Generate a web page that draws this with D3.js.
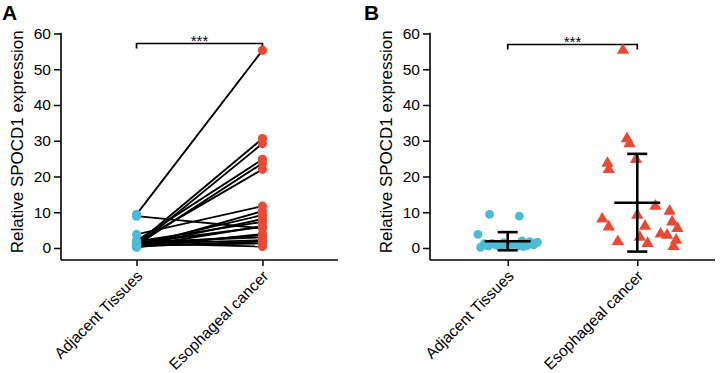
<!DOCTYPE html>
<html>
<head>
<meta charset="utf-8">
<script src="https://cdn.jsdelivr.net/npm/d3@7"></script>
<style>
  html, body { margin: 0; padding: 0; background: #fff; }
  svg { display: block; font-family: "Liberation Sans", Arial, sans-serif; }
</style>
</head>
<body>
<svg id="chart" width="720" height="373"></svg>
<script>
// ---- data (paired samples, same order in both arrays) ----
const categories = ["Adjacent Tissues", "Esophageal cancer"];
const adjacent = [9.4, 1.2, 0.5, 2.0, 0.8, 1.5, 3.8, 0.3, 1.0, 0.6, 1.8, 0.4, 8.9, 1.4, 0.2, 0.9, 1.6, 0.5, 0.7, 1.3, 1.1];
const cancer   = [55.3, 30.6, 29.2, 24.8, 23.7, 22.0, 11.7, 10.3, 9.2, 8.1, 7.3, 6.1, 5.5, 5.9, 3.9, 3.6, 3.0, 1.8, 1.3, 0.4, 2.2];
// horizontal jitter for panel B (fraction of category spacing)
const jitterAdj    = [-0.14, -0.18, -0.15, 0.11, -0.09, -0.03, -0.23, -0.06, 0.03, 0.08, 0.17, 0.12, 0.09, 0.22, -0.21, 0.20, 0.23, 0.0, 0.15, -0.12, 0.05];
const jitterCancer = [-0.11, -0.08, -0.06, -0.01, -0.23, -0.22, 0.14, 0.25, 0.0, -0.27, 0.27, 0.06, 0.31, -0.22, 0.18, 0.23, 0.02, -0.15, 0.08, 0.28, 0.30];
const yTicks = [0, 10, 20, 30, 40, 50, 60];
const yLabel = "Relative SPOCD1 expression";
const sigLabel = "***";
const panelLabels = ["A", "B"];

const BLUE = "#4DBBD5", RED = "#E64B35";
const svg = d3.select("#chart");

function panel(opts) {
  const g = svg.append("g");
  const y = d3.scaleLinear().domain([-3.36, 60]).range([260, 33.5]);
  const x = d3.scalePoint().domain(categories).range([opts.left, opts.right]).padding(0.6);
  const step = x.step();

  // y axis
  const ya = g.append("g").attr("transform", `translate(${opts.left},0)`)
    .call(d3.axisLeft(y).tickValues(yTicks).tickSize(7).tickSizeOuter(0).tickPadding(3));
  ya.select(".domain").remove();
  ya.selectAll(".tick line").attr("stroke", "#000").attr("stroke-width", 1.5);
  ya.selectAll(".tick text").attr("font-size", 15.5).attr("fill", "#000")
    .attr("font-family", "Liberation Sans, Arial, sans-serif");
  g.append("line").attr("x1", opts.left).attr("x2", opts.left)
    .attr("y1", y(60) - 0.75).attr("y2", y.range()[0]).attr("stroke", "#000").attr("stroke-width", 1.6);

  // x axis
  const xa = g.append("g").attr("transform", `translate(0,${y.range()[0]})`)
    .call(d3.axisBottom(x).tickSize(6).tickSizeOuter(0));
  xa.select(".domain").remove();
  xa.selectAll(".tick line").attr("stroke", "#000").attr("stroke-width", 1.5);
  xa.selectAll(".tick text").remove();
  g.append("line").attr("x1", opts.left).attr("x2", opts.right)
    .attr("y1", y.range()[0]).attr("y2", y.range()[0]).attr("stroke", "#000").attr("stroke-width", 1.6);
  categories.forEach(c => {
    g.append("text").attr("text-anchor", "end").attr("font-size", 15.5).attr("fill", "#000")
      .attr("transform", `translate(${x(c) + 7},${y.range()[0] + 17}) rotate(-45)`)
      .text(c);
  });

  // y label
  g.append("text").attr("text-anchor", "middle").attr("font-size", 17).attr("fill", "#000")
    .attr("transform", `translate(${opts.left - 38},${(y(60) + y(0)) / 2 + 1}) rotate(-90)`)
    .text(yLabel);

  // panel letter
  g.append("text").attr("x", opts.letterX).attr("y", 20).attr("font-size", 21)
    .attr("font-weight", "bold").attr("fill", "#000").text(opts.letter);

  // significance bracket
  const by = y(60) + opts.bracketDy;
  g.append("path").attr("fill", "none").attr("stroke", "#000").attr("stroke-width", 1.7)
    .attr("d", `M${x(categories[0])},${by + 5}V${by}H${x(categories[1])}V${by + 5}`);
  g.append("text").attr("x", (x(categories[0]) + x(categories[1])) / 2).attr("y", by + 2)
    .attr("text-anchor", "middle").attr("font-size", 15).attr("fill", "#000").text(sigLabel);

  return { g, x, y, step };
}

// ---- Panel A: paired lines ----
{
  const { g, x, y } = panel({ left: 61, right: 338, letter: panelLabels[0], letterX: 2, bracketDy: 10 });
  const pairs = adjacent.map((a, i) => ({ a, c: cancer[i] }));
  g.append("g").selectAll("line").data(pairs).join("line")
    .attr("x1", x(categories[0])).attr("x2", x(categories[1]))
    .attr("y1", d => y(d.a)).attr("y2", d => y(d.c))
    .attr("stroke", "#000").attr("stroke-width", 1.9);
  g.append("g").selectAll("circle").data(adjacent).join("circle")
    .attr("cx", x(categories[0])).attr("cy", d => y(d)).attr("r", 4.6).attr("fill", BLUE);
  g.append("g").selectAll("circle").data(cancer).join("circle")
    .attr("cx", x(categories[1])).attr("cy", d => y(d)).attr("r", 4.6).attr("fill", RED);
}

// ---- Panel B: scatter with mean ± SD ----
{
  const { g, x, y, step } = panel({ left: 430, right: 715, letter: panelLabels[1], letterX: 364, bracketDy: 11 });
  g.append("g").selectAll("circle").data(adjacent).join("circle")
    .attr("cx", (d, i) => x(categories[0]) + jitterAdj[i] * step)
    .attr("cy", d => y(d)).attr("r", 4.4).attr("fill", BLUE);
  const tri = d3.symbol().type(d3.symbolTriangle).size(66);
  g.append("g").selectAll("path").data(cancer).join("path")
    .attr("d", tri)
    .attr("transform", (d, i) => `translate(${x(categories[1]) + jitterCancer[i] * step},${y(d)})`)
    .attr("fill", RED);

  [adjacent, cancer].forEach((vals, k) => {
    const cx = x(categories[k]);
    const m = d3.mean(vals), sd = d3.deviation(vals);
    const eg = g.append("g").attr("stroke", "#000").attr("stroke-width", 2.6);
    eg.append("line").attr("x1", cx).attr("x2", cx).attr("y1", y(m - sd)).attr("y2", y(m + sd));
    eg.append("line").attr("x1", cx - 23).attr("x2", cx + 23).attr("y1", y(m)).attr("y2", y(m));
    eg.append("line").attr("x1", cx - 10).attr("x2", cx + 10).attr("y1", y(m + sd)).attr("y2", y(m + sd));
    eg.append("line").attr("x1", cx - 10).attr("x2", cx + 10).attr("y1", y(m - sd)).attr("y2", y(m - sd));
  });
}
</script>
</body>
</html>
